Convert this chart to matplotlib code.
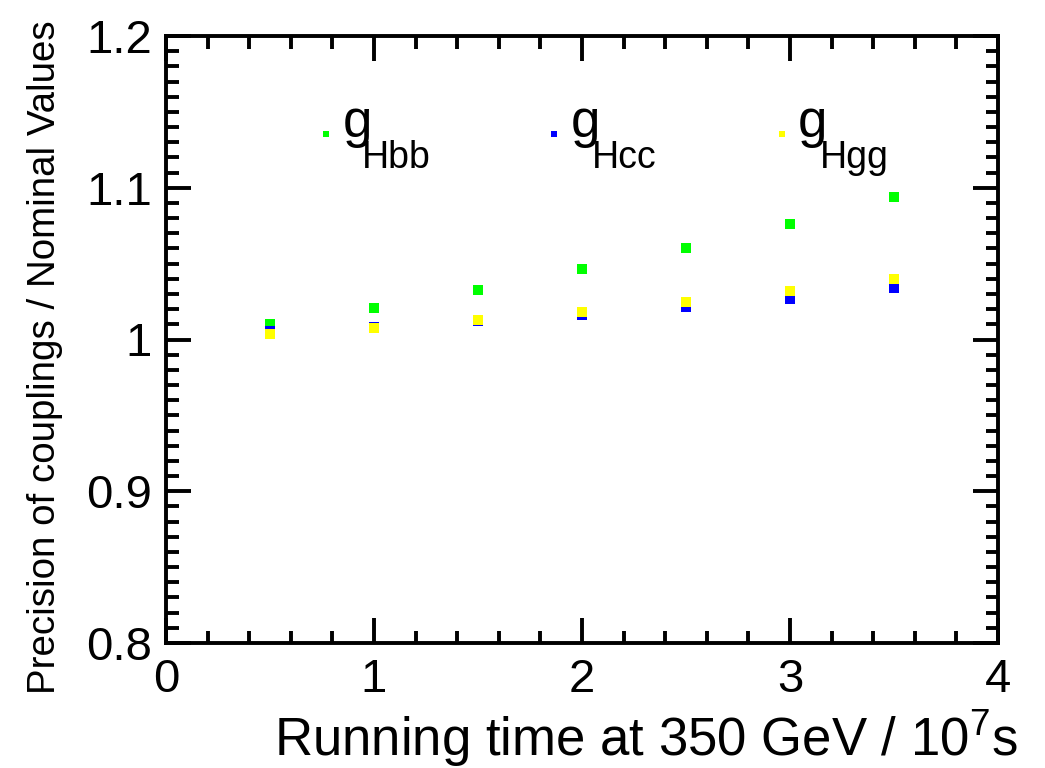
import matplotlib
matplotlib.use("Agg")
import matplotlib.pyplot as plt
from matplotlib.ticker import MultipleLocator

plt.rcParams['font.family'] = ['Liberation Sans', 'DejaVu Sans']
plt.rcParams['mathtext.fontset'] = 'custom'
plt.rcParams['mathtext.rm'] = 'Liberation Sans'
plt.rcParams['mathtext.it'] = 'Liberation Sans'

# Data
running_time = [0.5, 1.0, 1.5, 2.0, 2.5, 3.0, 3.5]
g_hbb = [1.0102, 1.0209, 1.0327, 1.0463, 1.0603, 1.0763, 1.0936]
g_hcc = [1.0056, 1.0084, 1.0123, 1.0163, 1.0211, 1.0266, 1.0338]
g_hgg = [1.0036, 1.0074, 1.0126, 1.0179, 1.0244, 1.0317, 1.0399]
series_names = ["Hbb", "Hcc", "Hgg"]
series_colors = ["#00ff00", "#0000ff", "#ffff00"]

fig = plt.figure(figsize=(10.45, 7.68), dpi=100)
ax = fig.add_axes([166/1045, 1-643/768, (998-166)/1045, (643-36)/768])

for vals, col in zip([g_hbb, g_hcc, g_hgg], series_colors):
    ax.plot(running_time, vals, ls='none', marker='s', ms=6.6, mfc=col, mec=col, mew=0)

ax.set_xlim(0, 4)
ax.set_ylim(0.8, 1.2)
ax.xaxis.set_major_locator(MultipleLocator(1))
ax.xaxis.set_minor_locator(MultipleLocator(0.2))
ax.yaxis.set_major_locator(MultipleLocator(0.1))
ax.yaxis.set_minor_locator(MultipleLocator(0.01))
ax.set_xticks([0, 1, 2, 3, 4], ["0", "1", "2", "3", "4"])
ax.set_yticks([0.8, 0.9, 1.0, 1.1, 1.2], ["0.8", "0.9", "1", "1.1", "1.2"])
ax.tick_params(which='both', direction='in', top=True, right=True, width=2.8, color='black')
ax.tick_params(which='major', length=18)
ax.tick_params(which='minor', length=9)
ax.tick_params(axis='x', which='major', pad=11, labelsize=34)
ax.tick_params(axis='y', which='major', pad=10, labelsize=34)
for s in ax.spines.values():
    s.set_linewidth(2.8)

# legend entries
leg_marker_x = [0.769, 1.865, 2.962]
leg_g_x = [0.851, 1.947, 3.038]
leg_sub_x = [0.942, 2.048, 3.144]
for mx, gx, sx, name, col in zip(leg_marker_x, leg_g_x, leg_sub_x, series_names, series_colors):
    ax.plot([mx], [1.1356], ls='none', marker='s', ms=5.0, mfc=col, mec=col, mew=0, clip_on=False)
    ax.text(gx, 1.1337, "g", fontsize=38, ha='left', va='baseline')
    ax.text(sx, 1.1133, name, fontsize=27, ha='left', va='baseline')

fig.text(1018/1045, 1-756/768, "Running time at 350 GeV / 10$^{7}$s", fontsize=38,
         ha='right', va='baseline')
fig.text(27/1045, 1-20/768, "Precision of couplings / Nominal Values", fontsize=27.7,
         rotation=90, ha='right', va='top', rotation_mode='anchor')

fig.savefig("out.png", dpi=100)
